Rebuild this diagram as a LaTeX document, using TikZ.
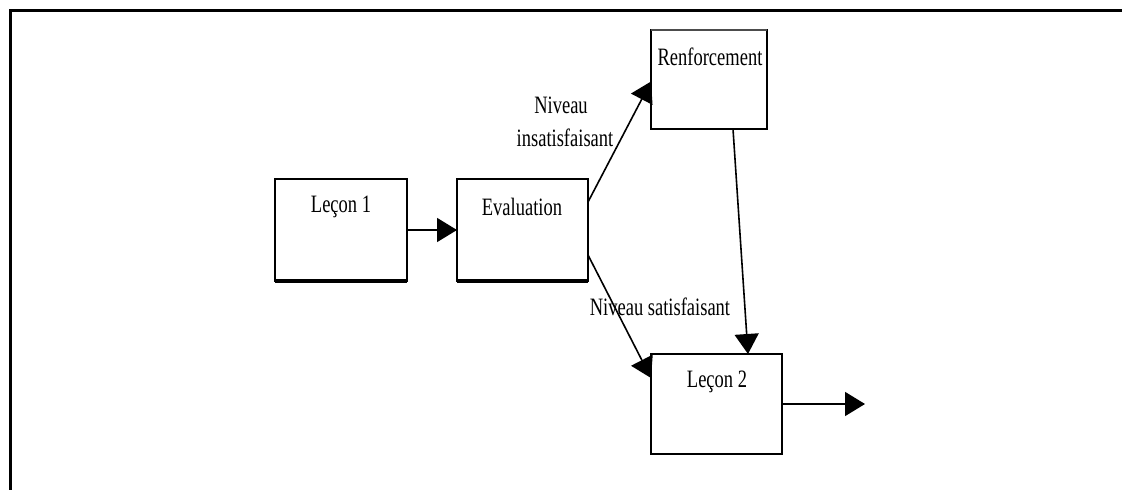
\documentclass[tikz,border=0pt]{standalone}
\usepackage{fontspec}
\setmainfont{Liberation Serif}[FakeStretch=0.74]
\usetikzlibrary{arrows.meta,calc}

\tikzset{
  box/.style={draw, line width=1.6pt, minimum width=#1, inner sep=0pt, outer sep=0pt},
  title/.style={font=\fontsize{25}{29}\selectfont, inner sep=0pt, anchor=center},
  flow/.style={line width=1.6pt, -{Triangle[length=20pt,width=24pt]}, shorten >=0pt},
  frame/.style={line width=3pt}
}

\begin{document}
\begin{tikzpicture}[x=1pt, y=-1pt]
  \useasboundingbox (0,0) rectangle (1122,490);

  % outer frame (top and left edges)
  \draw[frame] (1122,10) -- (10,10) -- (10,490);

  % boxes
  \node[box=132pt, minimum height=102pt] (l1) at (341,230) {};
  \node[box=131pt, minimum height=102pt] (ev) at (522.5,230) {};
  \node[box=116pt, minimum height=99pt]  (rf) at (709,79.5) {};
  \node[box=131pt, minimum height=100pt] (l2) at (716.5,404) {};

  % heavier lower edges
  \draw[line width=3.2pt] (l1.south west) -- (l1.south east);
  \draw[line width=3.2pt] (ev.south west) -- (ev.south east);
  \draw[line width=2.8pt] (l2.south west) -- (l2.south east);
  \draw[line width=2.4pt, black!70] (rf.north west) -- (rf.north east);

  % box titles
  \node[title] (t1) at (341,207) {Leçon 1};
  \node[title] (t2) at (522,207) {Evaluation};
  \node[title] (t3) at (710,57) {Renforcement};
  \node[title] (t4) at (717,382) {Leçon 2};

  % connectors
  \coordinate (out) at (865,404);
  \draw[flow] (l1.east) -- (ev.west);
  \draw[flow] ($(ev.north east)+(0,23)$) -- ($(rf.west)+(0,2)$);
  \draw[flow] ($(ev.south east)+(0,-26)$) -- ($(l2.north west)+(0,24)$);
  \draw[flow] ($(rf.south)+(24,0)$) -- ($(l2.north)+(31.5,0)$);
  \draw[flow] (l2.east) -- (out);

  % branch labels
  \node[title] (n1) at (561,105) {Niveau};
  \node[title] (n2) at (565,138) {insatisfaisant};
  \node[title] (n3) at (660,307) {Niveau satisfaisant};
\end{tikzpicture}
\end{document}
